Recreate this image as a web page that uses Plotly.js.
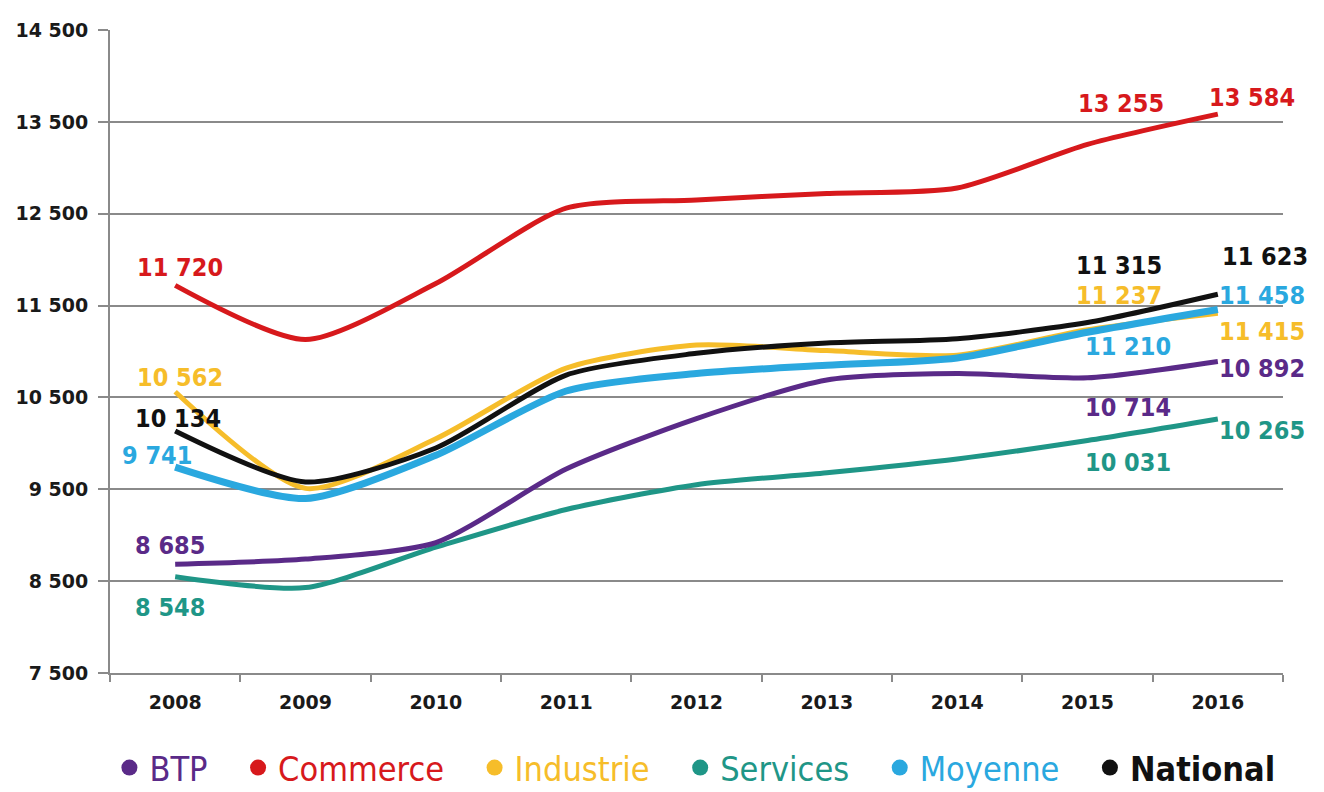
<!DOCTYPE html>
<html>
<head>
<meta charset="utf-8">
<script src="https://cdn.plot.ly/plotly-3.0.1.min.js"></script>
<style>html,body{margin:0;padding:0;background:#fff;}#chart{width:1324px;height:792px;}#err{position:absolute;left:300px;top:40px;color:#c00;font:14px monospace;}</style>
</head>
<body>
<div id="chart"></div>
<div id="err"></div>
<script>
window.onerror = function (m) { document.getElementById('err').textContent += ' ERR: ' + m; };
// ---- data ----
var years = ['2008', '2009', '2010', '2011', '2012', '2013', '2014', '2015', '2016'];
var btp       = [8685, 8740, 8920, 9720, 10270, 10690, 10760, 10714, 10892];
var commerce  = [11720, 11130, 11740, 12560, 12650, 12720, 12780, 13255, 13584];
var industrie = [10562, 9510, 10050, 10820, 11070, 11010, 10960, 11237, 11415];
var services  = [8548, 8430, 8870, 9280, 9550, 9680, 9830, 10031, 10265];
var moyenne   = [9741, 9400, 9870, 10570, 10760, 10850, 10930, 11210, 11458];
var national  = [10134, 9580, 9950, 10744, 10980, 11092, 11140, 11315, 11623];
var seriesNames = ['BTP', 'Commerce', 'Industrie', 'Services', 'Moyenne', 'National'];
var yTicks = [7500, 8500, 9500, 10500, 11500, 12500, 13500, 14500];

// ---- styles ----
var colors = {
  BTP: '#5a2a88', Commerce: '#d7191c', Industrie: '#f6bd2a',
  Services: '#1f9687', Moyenne: '#2aa8df', National: '#111111'
};
var dataBy = {BTP: btp, Commerce: commerce, Industrie: industrie, Services: services, Moyenne: moyenne, National: national};
var drawOrder = ['Services', 'BTP', 'Industrie', 'Moyenne', 'Commerce', 'National'];
var widths = {BTP: 5, Commerce: 5, Industrie: 5, Services: 5, Moyenne: 7, National: 5};

function fmt(v) {
  var s = String(Math.round(v));
  return s.replace(/\B(?=(\d{3})+(?!\d))/g, ' ');
}

var traces = [];
drawOrder.forEach(function (n) {
  traces.push({
    x: years, y: dataBy[n], type: 'scatter', mode: 'lines',
    line: {color: colors[n], width: widths[n], shape: 'spline', smoothing: 0.7},
    showlegend: false, hoverinfo: 'skip'
  });
});
// legend entries
seriesNames.forEach(function (n, k) {
  var label = n === 'National' ? '<b>' + n + '</b>' : n;
  var pad = k < seriesNames.length - 1 ? '\u00a0\u00a0\u2009' : '';
  traces.push({
    x: [null], y: [null], type: 'scatter', mode: 'markers',
    marker: {color: colors[n], size: 18},
    name: '<span style="color:' + colors[n] + '">' + label + '</span>' + pad,
    showlegend: true, hoverinfo: 'skip'
  });
});

// label placement (series, year index, x/y pixel offsets)
var labelSpecs = [
  ['Commerce', 0, 5, 18], ['Industrie', 0, 5, 14], ['National', 0, 3, 13],
  ['Moyenne', 0, -18, 12], ['BTP', 0, -5, 19], ['Services', 0, -5, -31],
  ['Commerce', 7, 33, 41], ['National', 7, 31, 57], ['Industrie', 7, 31, 34],
  ['Moyenne', 7, 40, -14], ['BTP', 7, 40, -30], ['Services', 7, 40, -22],
  ['Commerce', 8, 34, 17], ['National', 8, 47, 38], ['Moyenne', 8, 44, 14],
  ['Industrie', 8, 44, -18], ['BTP', 8, 44, -7], ['Services', 8, 44, -11]
];
var annotations = labelSpecs.map(function (s) {
  var n = s[0], i = s[1];
  return {
    x: i, y: dataBy[n][i], xref: 'x', yref: 'y',
    text: '<b>' + fmt(dataBy[n][i]) + '</b>', showarrow: false,
    xshift: s[2], yshift: s[3], xanchor: 'center', yanchor: 'middle',
    font: {family: 'DejaVu Sans Condensed', size: 25, color: colors[n]}
  };
});

var layout = {
  width: 1324, height: 792,
  margin: {l: 110, r: 41, t: 30, b: 119, autoexpand: false},
  paper_bgcolor: '#ffffff', plot_bgcolor: '#ffffff',
  showlegend: true,
  hovermode: false,
  xaxis: {
    type: 'category', categoryorder: 'array', categoryarray: years,
    showgrid: false, zeroline: false,
    showline: true, linecolor: '#8a8a8a', linewidth: 2,
    ticks: 'outside', tickson: 'boundaries', ticklen: 7, tickwidth: 2, tickcolor: '#8a8a8a',
    tickfont: {family: 'DejaVu Sans', size: 19, color: '#1a1a1a', weight: 'bold'},
    ticklabelstandoff: 11,
    range: [-0.5, 8.5]
  },
  yaxis: {
    range: [7500, 14500], tickvals: yTicks, ticktext: yTicks.map(fmt),
    showgrid: true, gridcolor: '#8a8a8a', gridwidth: 2, zeroline: false,
    showline: true, linecolor: '#8a8a8a', linewidth: 2,
    ticks: 'outside', ticklen: 10, tickwidth: 2, tickcolor: '#8a8a8a',
    tickfont: {family: 'DejaVu Sans', size: 19, color: '#1a1a1a', weight: 'bold'},
    ticklabelstandoff: 6
  },
  legend: {
    orientation: 'h', xref: 'paper', yref: 'paper',
    x: -0.0005, xanchor: 'left', y: -0.1477, yanchor: 'middle',
    font: {family: 'DejaVu Sans Condensed', size: 34, color: '#111'},
    bgcolor: 'rgba(0,0,0,0)', borderwidth: 0,
    itemclick: false, itemdoubleclick: false
  },
  annotations: annotations
};

try {
  Plotly.newPlot('chart', traces, layout, {staticPlot: true, displayModeBar: false})
    .catch(function (e) { document.getElementById('err').textContent += ' P: ' + e; });
} catch (e) { document.getElementById('err').textContent += ' T: ' + e; }
</script>
</body>
</html>
